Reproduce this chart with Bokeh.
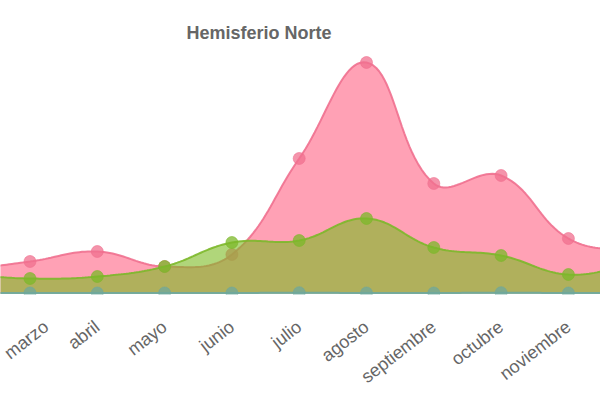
import math
from bokeh.plotting import figure
from bokeh.models import Range1d, FixedTicker
from bokeh.embed import file_html
from bokeh.resources import INLINE

meses = ["enero", "febrero", "marzo", "abril", "mayo", "junio", "julio",
         "agosto", "septiembre", "octubre", "noviembre", "diciembre"]
serie_rosa = [20, 24, 32, 42, 27, 39, 135, 231, 110, 118, 55, 41]
serie_verde = [20, 19, 15, 17, 27, 51, 53, 75, 46, 38, 19, 30]
serie_azul = [0.5, 0.5, 0.5, 0.5, 0.5, 0.5, 0.8, 0.5, 0.5, 0.8, 0.5, 0.5]

X_PX = 67.3
TENSION = 0.4


def spline(xs, ys, steps=24):
    n = len(xs)
    px = [x * X_PX for x in xs]
    cps = []
    for i in range(n):
        prev_i = max(i - 1, 0)
        next_i = min(i + 1, n - 1)
        d01 = math.hypot(px[i] - px[prev_i], ys[i] - ys[prev_i])
        d12 = math.hypot(px[next_i] - px[i], ys[next_i] - ys[i])
        tot = d01 + d12
        s01 = d01 / tot if tot else 0
        s12 = d12 / tot if tot else 0
        fa, fb = TENSION * s01, TENSION * s12
        dx = px[next_i] - px[prev_i]
        dy = ys[next_i] - ys[prev_i]
        c1 = (px[i] - fa * dx, max(ys[i] - fa * dy, 0))
        c2 = (px[i] + fb * dx, max(ys[i] + fb * dy, 0))
        cps.append((c1, c2))
    out_x, out_y = [], []
    for i in range(n - 1):
        p0 = (px[i], ys[i])
        p1 = cps[i][1]
        p2 = cps[i + 1][0]
        p3 = (px[i + 1], ys[i + 1])
        for k in range(steps):
            t = k / steps
            a = (1 - t) ** 3
            b = 3 * (1 - t) ** 2 * t
            c = 3 * (1 - t) * t ** 2
            d = t ** 3
            out_x.append((a * p0[0] + b * p1[0] + c * p2[0] + d * p3[0]) / X_PX)
            out_y.append(a * p0[1] + b * p1[1] + c * p2[1] + d * p3[1])
    out_x.append(xs[-1])
    out_y.append(ys[-1])
    return out_x, out_y


xs = list(range(len(meses)))

p = figure(width=600, height=400, output_backend="svg", toolbar_location=None,
           x_range=Range1d(1.5617, 10.477), y_range=Range1d(-1, 243),
           min_border_left=0, min_border_right=0, min_border_top=50,
           min_border_bottom=106, y_axis_location=None,
           title="Hemisferio Norte")
p.outline_line_color = None
p.xgrid.visible = False
p.ygrid.visible = False
p.background_fill_color = "white"
p.border_fill_color = "white"

p.title.align = "left"
p.title.offset = 186
p.title.text_font = "Liberation Sans"
p.title.text_font_size = "18px"
p.title.text_font_style = "bold"
p.title.text_color = "#666666"
p.title.standoff = 16

series = [
    (serie_rosa, (255, 99, 132), 0.6, "#f0708f"),
    (serie_verde, (123, 187, 33), 0.6, "#7cb82a"),
    (serie_azul, (75, 170, 170), 0.6, "#6fa89c"),
]
for vals, rgb, alpha, line_col in series:
    cx, cy = spline(xs, vals)
    px_ = cx + [xs[-1], xs[0]]
    py_ = cy + [0, 0]
    fill = "#%02x%02x%02x" % rgb
    p.patch(px_, py_, fill_color=fill, fill_alpha=alpha, line_color=None)
    p.line(cx, cy, line_color=line_col, line_width=2, line_alpha=0.9)
    p.scatter(xs, vals, size=12, fill_color=line_col, fill_alpha=0.75,
              line_color=line_col, line_alpha=0.6)

ax = p.xaxis[0]
ax.ticker = FixedTicker(ticks=xs)
ax.major_label_overrides = {i: m for i, m in enumerate(meses)}
ax.axis_line_color = None
ax.major_tick_line_color = None
ax.minor_tick_line_color = None
ax.major_label_orientation = 0.66
ax.major_label_standoff = 24
ax.major_label_text_font = "Liberation Sans"
ax.major_label_text_font_size = "18px"
ax.major_label_text_color = "#666666"

open("out.html", "w").write(file_html(p, INLINE))
